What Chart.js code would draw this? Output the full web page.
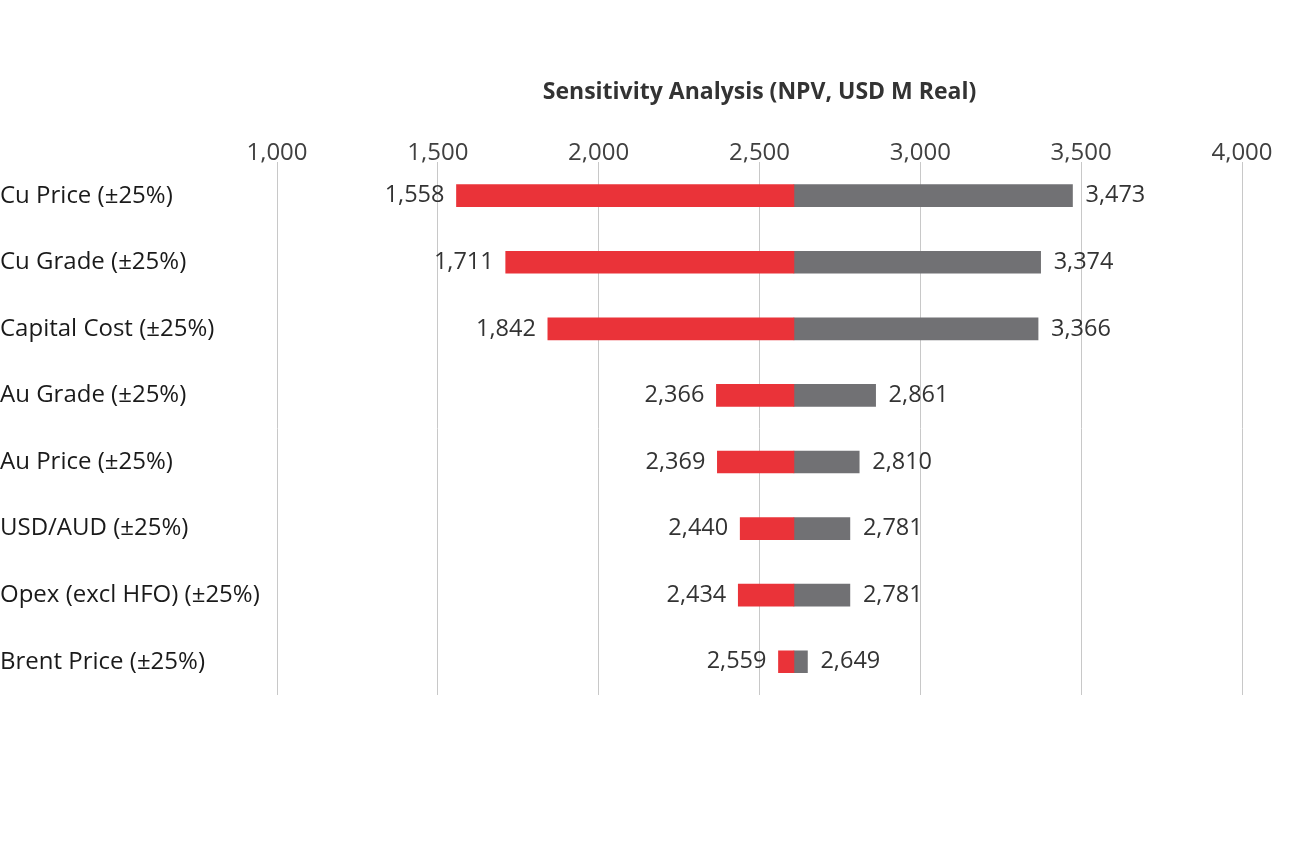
<!DOCTYPE html>
<html>
<head>
<meta charset="utf-8">
<title>Sensitivity Analysis</title>
<script src="https://cdn.jsdelivr.net/npm/chart.js@4.4.1/dist/chart.umd.min.js"></script>
<style>
  html, body { margin: 0; padding: 0; background: #fff; }
  #wrap { width: 1302px; height: 841px; }
</style>
</head>
<body>
<div id="wrap"><canvas id="tornado"></canvas></div>
<script>
// Values
const categories = [
    'Cu Price (±25%)',
    'Cu Grade (±25%)',
    'Capital Cost (±25%)',
    'Au Grade (±25%)',
    'Au Price (±25%)',
    'USD/AUD (±25%)',
    'Opex (excl HFO) (±25%)',
    'Brent Price (±25%)'
];
const lowValues = [1558, 1711, 1842, 2366, 2369, 2440, 2434, 2559];
const highValues = [3473, 3374, 3366, 2861, 2810, 2781, 2781, 2649];
const baseValue = 2607;
const xTicks = [1000, 1500, 2000, 2500, 3000, 3500, 4000];

const FONT = '"Open Sans", sans-serif';
const fmt = v => Number(v).toLocaleString('en-US');

// Draw the low / high value next to the bar ends
const endLabels = {
    id: 'endLabels',
    afterDatasetsDraw(chart) {
        const ctx = chart.ctx;
        ctx.save();
        ctx.font = '23.5px ' + FONT;
        ctx.fillStyle = '#333333';
        ctx.textBaseline = 'middle';
        chart.getDatasetMeta(0).data.forEach((bar, i) => {
            ctx.textAlign = 'right';
            ctx.fillText(fmt(lowValues[i]), Math.min(bar.x, bar.base) - 12, bar.y);
        });
        chart.getDatasetMeta(1).data.forEach((bar, i) => {
            ctx.textAlign = 'left';
            ctx.fillText(fmt(highValues[i]), Math.max(bar.x, bar.base) + 13, bar.y);
        });
        ctx.restore();
    }
};

function initChart() {
    const ctx = document.getElementById('tornado').getContext('2d');
    new Chart(ctx, {
        type: 'bar',
        data: {
            labels: categories,
            datasets: [{
                label: 'Downside',
                data: lowValues.map(v => [v, baseValue]),
                backgroundColor: '#EA3339',
                grouped: false
            }, {
                label: 'Upside',
                data: highValues.map(v => [baseValue, v]),
                backgroundColor: '#717174',
                grouped: false
            }]
        },
        options: {
            indexAxis: 'y',
            responsive: true,
            maintainAspectRatio: false,
            animation: false,
            layout: {
                padding: { top: 79, right: 60, bottom: 146, left: 0 }
            },
            barThickness: 22,
            plugins: {
                legend: { display: false },
                tooltip: { enabled: false }
            },
            scales: {
                x: {
                    position: 'top',
                    min: 1000,
                    max: 4000,
                    afterBuildTicks: axis => {
                        axis.ticks = xTicks.map(v => ({ value: v }));
                    },
                    ticks: {
                        callback: v => fmt(v),
                        color: '#404040',
                        font: { family: FONT, size: 24 },
                        padding: -5,
                        maxRotation: 0
                    },
                    grid: {
                        color: '#C8C8C8',
                        lineWidth: 1,
                        drawTicks: false
                    },
                    border: { display: false },
                    title: {
                        display: true,
                        text: 'Sensitivity Analysis (NPV, USD M Real)',
                        color: '#333333',
                        font: { family: FONT, size: 23, weight: 'bold' },
                        padding: { top: 0, bottom: 37 }
                    }
                },
                y: {
                    afterFit: axis => { axis.width = 277; },
                    ticks: {
                        crossAlign: 'far',
                        color: '#1a1a1a',
                        font: { family: FONT, size: 24 },
                        padding: 12
                    },
                    grid: { display: false },
                    border: { display: false }
                }
            }
        },
        plugins: [endLabels]
    });
}

document.addEventListener('DOMContentLoaded', initChart);
</script>
</body>
</html>
